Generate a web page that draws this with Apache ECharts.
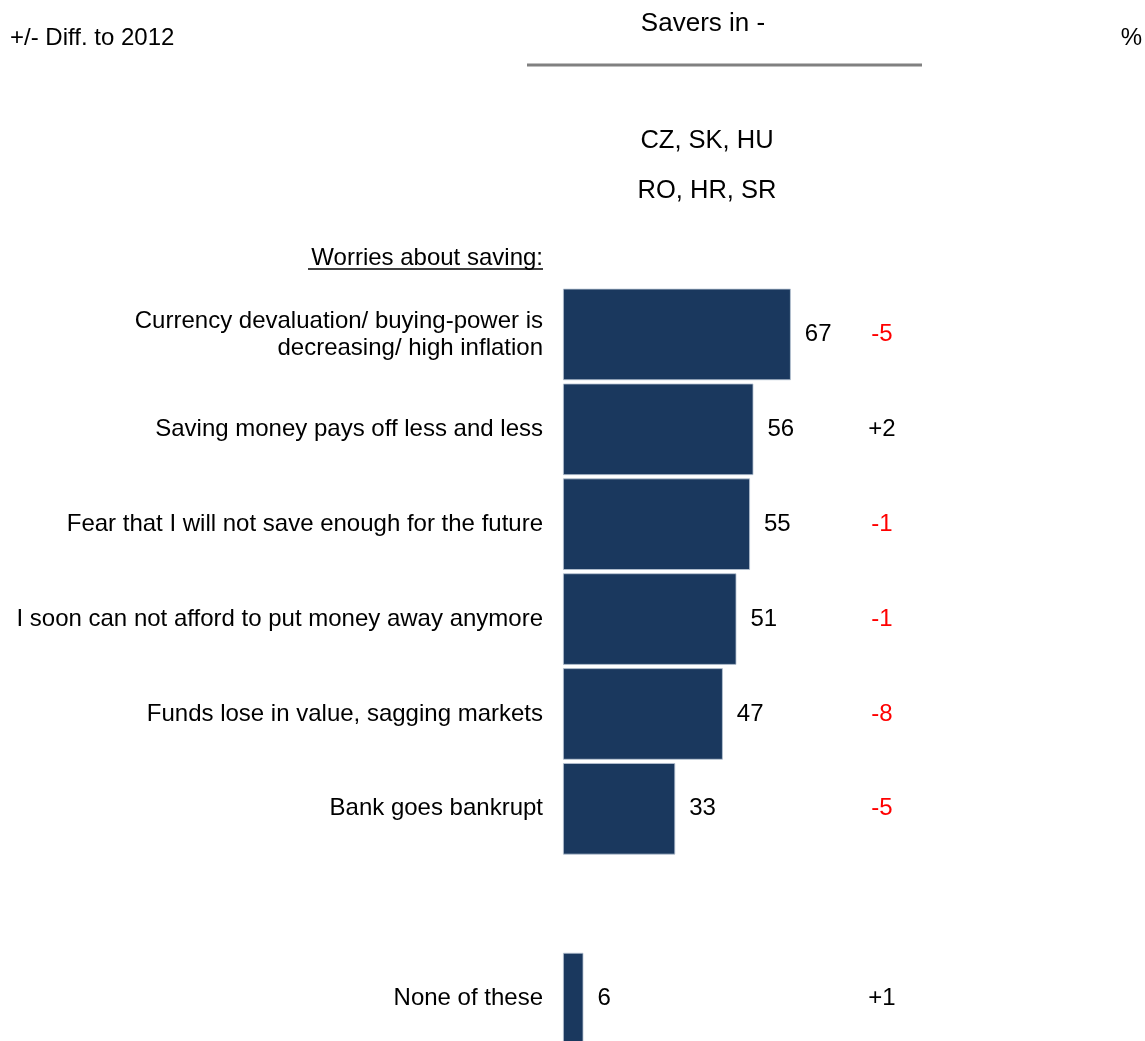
<!DOCTYPE html>
<html>
<head>
<meta charset="utf-8">
<script src="https://cdn.jsdelivr.net/npm/echarts@6/dist/echarts.min.js"></script>
<style>
  html, body { margin: 0; padding: 0; background: #ffffff; }
  #chart { width: 1145px; height: 1041px; }
</style>
</head>
<body>
<div id="chart"></div>
<script>
// Worries about saving, savers in CZ, SK, HU, RO, HR, SR (%)
const categories = [
  'Currency devaluation/ buying-power is\ndecreasing/ high inflation',
  'Saving money pays off less and less',
  'Fear that I will not save enough for the future',
  'I soon can not afford to put money away anymore',
  'Funds lose in value, sagging markets',
  'Bank goes bankrupt',
  '',
  'None of these'
];
const shares = [67, 56, 55, 51, 47, 33, null, 6];
// change versus 2012, percentage points
const diffs = [-5, 2, -1, -1, -8, -5, null, 1];

const FONT = '"Liberation Sans", Arial, sans-serif';
const chart = echarts.init(document.getElementById('chart'), null, { renderer: 'canvas' });

function fmtDiff(v) {
  if (v === null || v === undefined) return '';
  return v > 0 ? '{pos|+' + v + '}' : '{neg|' + v + '}';
}

chart.setOption({
  animation: false,
  backgroundColor: '#ffffff',
  textStyle: { fontFamily: FONT },
  grid: {
    left: 563, top: 287, width: 340, height: 759,
    containLabel: false, outerBoundsMode: 'none'
  },
  xAxis: {
    type: 'value', min: 0, max: 100, show: false
  },
  yAxis: [
    {
      type: 'category', data: categories, inverse: true,
      axisLine: { show: false }, axisTick: { show: false }, splitLine: { show: false },
      axisLabel: {
        margin: 20, color: '#000000', fontSize: 24, fontFamily: FONT,
        align: 'right', lineHeight: 27
      }
    },
    {
      type: 'category', data: categories, inverse: true, position: 'right', offset: -21,
      axisLine: { show: false }, axisTick: { show: false }, splitLine: { show: false },
      axisLabel: {
        margin: 0, align: 'center', fontSize: 24, fontFamily: FONT,
        formatter: function (v, i) { return fmtDiff(diffs[i]); },
        rich: {
          pos: { color: '#000000', fontSize: 24, fontFamily: FONT },
          neg: { color: '#ff0000', fontSize: 24, fontFamily: FONT }
        }
      }
    }
  ],
  series: [{
    type: 'bar',
    data: shares,
    barCategoryGap: '3.6%',
    itemStyle: { color: '#1a385e', borderColor: '#b8c4d3', borderWidth: 0.8 },
    label: {
      show: true, position: 'right', distance: 14,
      color: '#000000', fontSize: 24, fontFamily: FONT,
      formatter: function (p) { return p.value == null ? '' : String(p.value); }
    }
  }],
  graphic: [
    { type: 'text', left: 10, top: 26, style: { text: '+/- Diff. to 2012', font: '24px ' + FONT, fill: '#000' } },
    { type: 'text', right: 3, top: 26, style: { text: '%', font: '24px ' + FONT, fill: '#000' } },
    { type: 'text', x: 703, y: 24, style: { text: 'Savers in -', font: '26px ' + FONT, fill: '#000', align: 'center', verticalAlign: 'middle' } },
    { type: 'line', shape: { x1: 527, y1: 65, x2: 922, y2: 65 }, style: { stroke: '#808080', lineWidth: 3 } },
    { type: 'text', x: 707, y: 141, style: { text: 'CZ, SK, HU', font: '25.5px ' + FONT, fill: '#000', align: 'center', verticalAlign: 'middle' } },
    { type: 'text', x: 707, y: 191, style: { text: 'RO, HR, SR', font: '25.5px ' + FONT, fill: '#000', align: 'center', verticalAlign: 'middle' } },
    { type: 'text', x: 543, y: 258, style: { text: 'Worries about saving:', font: '24px ' + FONT, fill: '#000', align: 'right', verticalAlign: 'middle' } },
    { type: 'line', shape: { x1: 308, y1: 269, x2: 543, y2: 269 }, style: { stroke: '#000', lineWidth: 1.5 } }
  ]
});
</script>
</body>
</html>
